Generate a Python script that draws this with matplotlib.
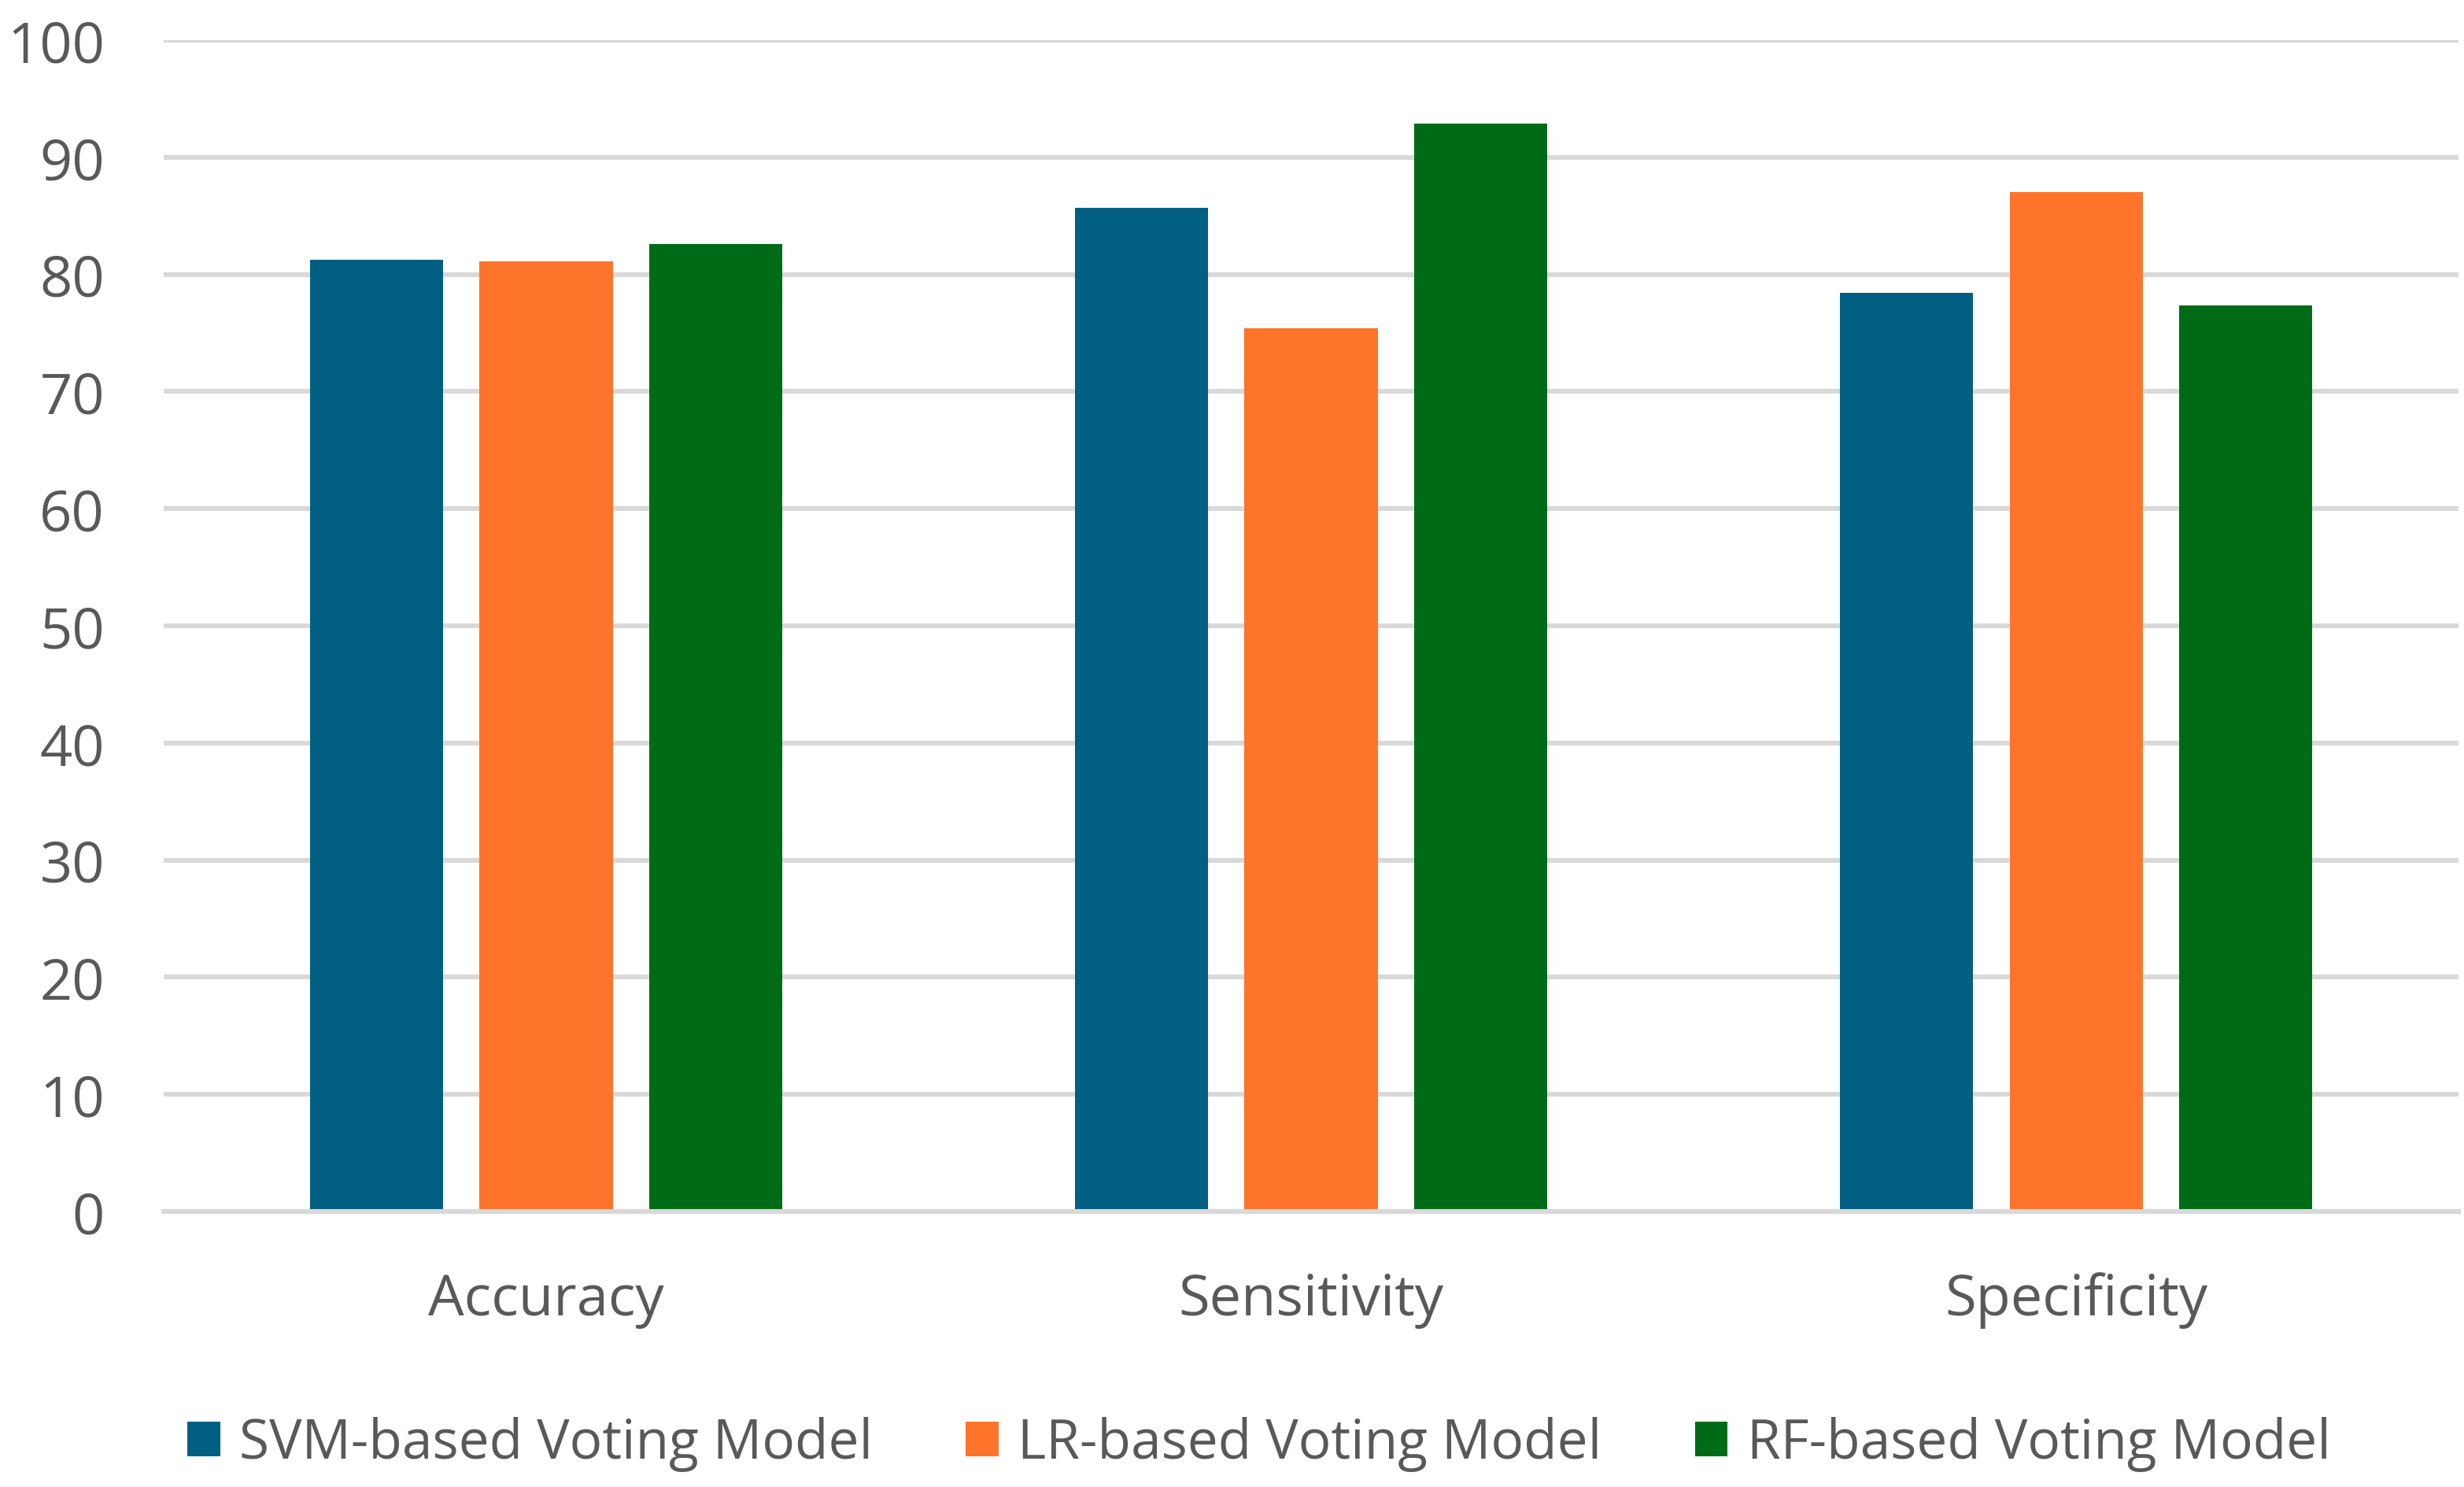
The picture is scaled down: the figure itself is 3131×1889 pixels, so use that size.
import numpy as np
import matplotlib.pyplot as plt

categories = ["Accuracy", "Sensitivity", "Specificity"]
series_names = ["SVM-based Voting Model", "LR-based Voting Model", "RF-based Voting Model"]
svm_vals = [81.25, 85.7, 78.4]
lr_vals = [81.1, 75.4, 87.05]
rf_vals = [82.6, 92.85, 77.35]
y_ticks = [0, 10, 20, 30, 40, 50, 60, 70, 80, 90, 100]

colors = ["#005f83", "#ff742b", "#006b17"]
text_color = "#595959"
grid_color = "#d9d9d9"

plt.rcParams["font.family"] = ["Open Sans", "DejaVu Sans"]

fig = plt.figure(figsize=(15.655, 9.45), dpi=200)
ax = fig.add_axes([0.0664, 0.1852, 0.9314, 0.7873])

x = np.arange(len(categories))
width = 0.174
offset = 0.222
for i, (name, vals) in enumerate(zip(series_names, [svm_vals, lr_vals, rf_vals])):
    ax.bar(x + (i - 1) * offset, vals, width, color=colors[i], label=name, zorder=3)

ax.set_xlim(-0.5, 2.5)
ax.set_ylim(0, 100)
ax.set_yticks(y_ticks)
ax.set_xticks(x)
ax.set_xticklabels(categories)
ax.yaxis.grid(True, color=grid_color, linewidth=2.2, zorder=0)
ax.tick_params(axis="both", length=0, labelsize=26, colors=text_color)
ax.tick_params(axis="x", pad=27.5)
ax.tick_params(axis="y", pad=27)
for side in ["top", "right", "left"]:
    ax.spines[side].set_visible(False)
ax.spines["bottom"].set_color(grid_color)
ax.spines["bottom"].set_linewidth(2.2)
ax.spines["bottom"].set_zorder(4)

fig.legend(loc="center", bbox_to_anchor=(0.511, 0.029), ncol=3, frameon=False,
           fontsize=25, labelcolor=text_color, handlelength=0.6, handleheight=0.6,
           handletextpad=0.35, columnspacing=1.7)

plt.savefig("out.png", dpi=200)
